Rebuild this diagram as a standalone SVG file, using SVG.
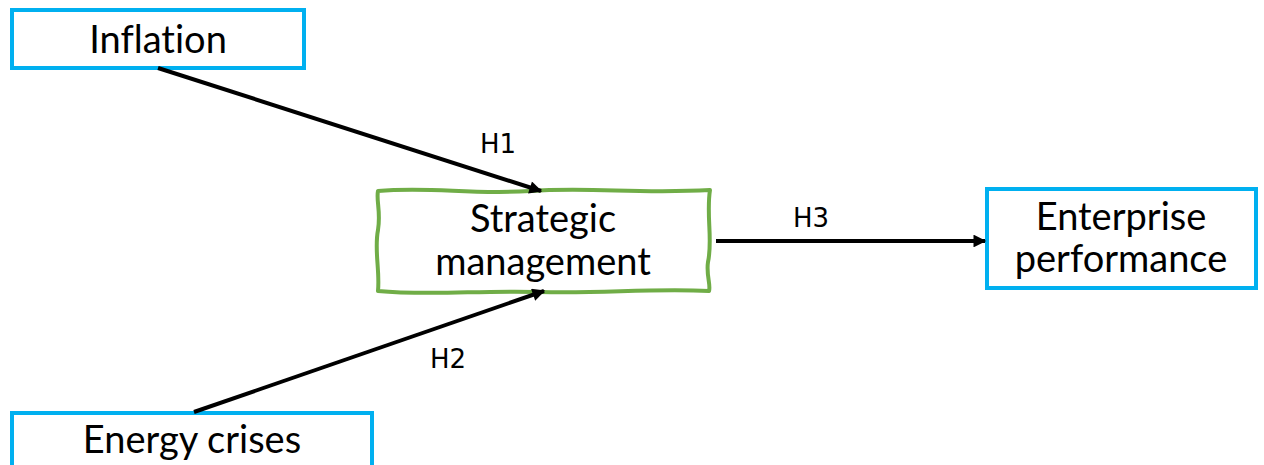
<svg xmlns="http://www.w3.org/2000/svg" width="1264" height="465" viewBox="0 0 1264 465">
  <style>
    .box { fill: #ffffff; stroke: #00b0f0; stroke-width: 4; }
    .wavy { fill: #ffffff; stroke: #70ad47; stroke-width: 4; stroke-linejoin: round; }
    .label { font-family: Lato, "Open Sans", sans-serif; font-size: 38px; fill: #000000; text-anchor: middle; font-variant-ligatures: none; }
    .hyp { font-family: "DejaVu Sans", sans-serif; font-size: 26px; fill: #000000; text-anchor: middle; }
    .link { stroke: #000000; stroke-width: 4; fill: none; marker-end: url(#head); }
  </style>
  <defs>
    <marker id="head" viewBox="0 0 10 10" refX="9" refY="5" markerWidth="4" markerHeight="3.2" orient="auto" markerUnits="strokeWidth">
      <path d="M0,0 L10,5 L0,10 Z" fill="#000000"/>
    </marker>
  </defs>

  <g id="node-inflation">
    <rect class="box" x="12" y="10" width="292" height="58"/>
    <text class="label" x="158" y="53">Inflation</text>
  </g>

  <g id="node-energy">
    <rect class="box" x="12" y="413" width="360" height="70"/>
    <text class="label" x="192" y="453">Energy crises</text>
  </g>

  <g id="node-strategic">
    <path class="wavy" d="M378,191 C430,186 470,195 530,191 C590,187 640,194 710,190 C706,215 713,240 708,262 C706,275 711,285 709,291 C650,288 600,294 540,292 C480,290 430,296 378,291 C380,270 374,250 378,230 C381,212 376,200 378,191 Z"/>
    <text class="label" x="543" y="232">Strategic</text>
    <text class="label" x="543" y="275">management</text>
  </g>

  <g id="node-performance">
    <rect class="box" x="987" y="189" width="269" height="99"/>
    <text class="label" x="1121" y="230">Enterprise</text>
    <text class="label" x="1121" y="272">performance</text>
  </g>

  <g id="connectors">
    <line class="link" x1="158" y1="68" x2="541" y2="191"/>
    <line class="link" x1="194" y1="412" x2="544" y2="291"/>
    <line class="link" x1="716" y1="241" x2="985" y2="241"/>
    <text class="hyp" x="498" y="153">H1</text>
    <text class="hyp" x="448" y="368">H2</text>
    <text class="hyp" x="811" y="227">H3</text>
  </g>
</svg>
